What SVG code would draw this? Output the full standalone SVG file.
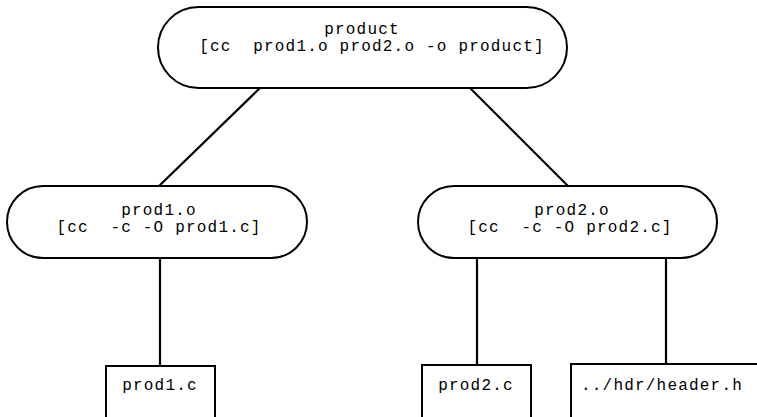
<svg xmlns="http://www.w3.org/2000/svg" width="757" height="417" viewBox="0 0 757 417">
<style>
.n{fill:#fff;stroke:#000;stroke-width:2}
.c{fill:none;stroke:#000;stroke-width:2.2}
text{font-family:"Liberation Mono","Courier New","DejaVu Sans Mono",monospace;font-size:16px;letter-spacing:1.2px;fill:#000;text-anchor:middle;white-space:pre}
</style>
<rect width="757" height="417" fill="#fff"/>
<g id="connectors">
<line class="c" x1="260" y1="88" x2="158" y2="187"/>
<line class="c" x1="470" y1="88" x2="568" y2="186"/>
<line class="c" x1="160" y1="258" x2="160" y2="366"/>
<line class="c" x1="477" y1="258" x2="477" y2="365"/>
<line class="c" x1="666" y1="258" x2="666" y2="364"/>
</g>
<g id="product">
<rect class="n" x="158" y="7" width="409" height="81" rx="40.5"/>
<text x="362" y="34" xml:space="preserve">product</text>
<text x="372" y="51" xml:space="preserve">[cc  prod1.o prod2.o -o product]</text>
</g>
<g id="prod1o">
<rect class="n" x="7" y="186" width="300" height="72" rx="36"/>
<text x="159" y="215" xml:space="preserve">prod1.o</text>
<text x="159" y="232" xml:space="preserve">[cc  -c -O prod1.c]</text>
</g>
<g id="prod2o">
<rect class="n" x="418" y="186" width="299" height="72" rx="36"/>
<text x="572" y="215" xml:space="preserve">prod2.o</text>
<text x="570" y="232" xml:space="preserve">[cc  -c -O prod2.c]</text>
</g>
<g id="prod1c">
<path class="n" d="M106,420 V366 H215 V420"/>
<text x="160" y="390">prod1.c</text>
</g>
<g id="prod2c">
<path class="n" d="M422,420 V365 H531 V420"/>
<text x="476" y="390">prod2.c</text>
</g>
<g id="header">
<path class="n" d="M571,420 V364 H760"/>
<text x="662" y="390">../hdr/header.h</text>
</g>
</svg>
